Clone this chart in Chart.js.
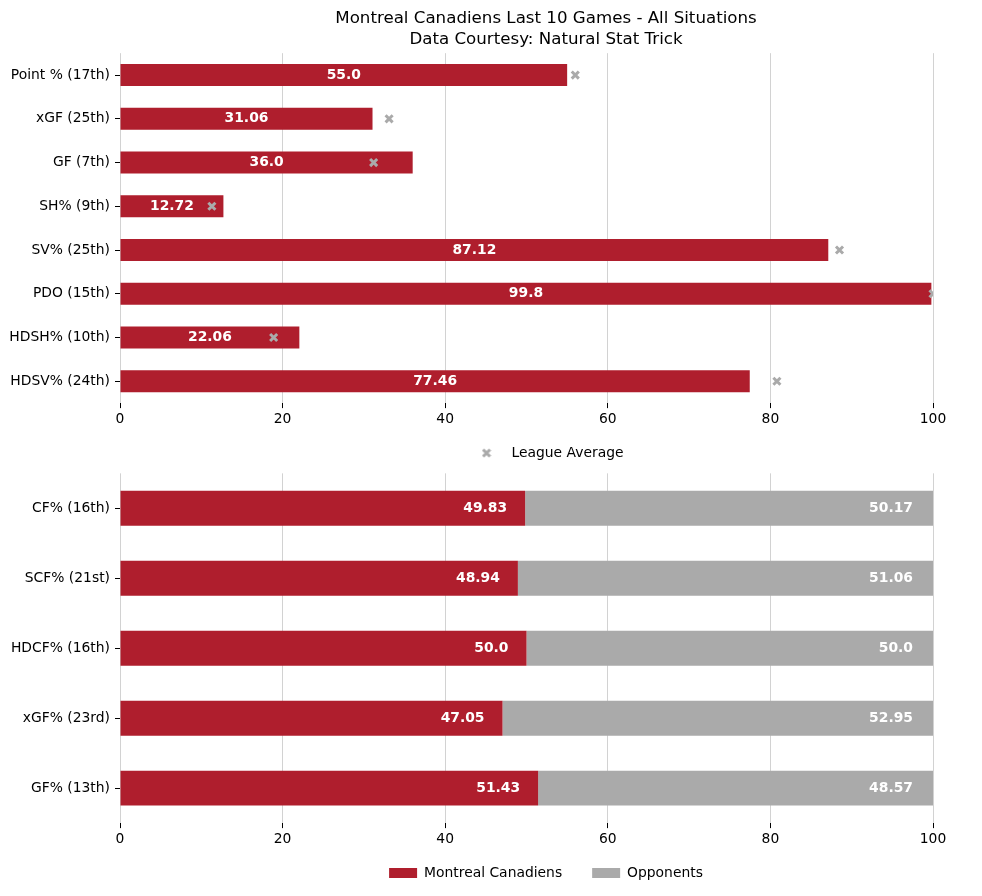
<!DOCTYPE html>
<html>
<head>
<meta charset="utf-8">
<script src="https://cdn.jsdelivr.net/npm/chart.js@4"></script>
<style>
  html, body { margin: 0; padding: 0; background: #ffffff; overflow: hidden; width: 982px; height: 896px; }
  #top { position: absolute; left: 0; top: 0; width: 982px; height: 470px; }
  #bottom { position: absolute; left: 0; top: 460px; width: 982px; height: 444px; }
</style>
</head>
<body>
<div id="top"><canvas id="c1"></canvas></div>
<div id="bottom"><canvas id="c2"></canvas></div>
<script>
// ---------- data ----------
const titleLines = ['Montreal Canadiens Last 10 Games - All Situations', 'Data Courtesy: Natural Stat Trick'];

const topCategories = ['Point % (17th)', 'xGF (25th)', 'GF (7th)', 'SH% (9th)', 'SV% (25th)', 'PDO (15th)', 'HDSH% (10th)', 'HDSV% (24th)'];
const teamValues = [55.0, 31.06, 36.0, 12.72, 87.12, 99.8, 22.06, 77.46];
const leagueAverage = [56.0, 33.1, 31.2, 11.3, 88.5, 100.0, 18.9, 80.8];

const bottomCategories = ['CF% (16th)', 'SCF% (21st)', 'HDCF% (16th)', 'xGF% (23rd)', 'GF% (13th)'];
const montrealShare = [49.83, 48.94, 50.0, 47.05, 51.43];
const opponentShare = [50.17, 51.06, 50.0, 52.95, 48.57];

const xTickStep = 20;
const xMin = 0;
const xMax = 100;

// ---------- styles ----------
const RED = '#AF1E2D';
const GRAY = '#AAAAAA';
const GRID = '#d2d2d2';
const FONT = "'DejaVu Sans', sans-serif";
const FS = 13.89;

Chart.defaults.font.family = FONT;
Chart.defaults.font.size = FS;
Chart.defaults.color = '#000000';

function fmt(v) { return Number.isInteger(v) ? v.toFixed(1) : String(v); }

// marker image for the legend (matplotlib-like bold X)
const xMarker = document.createElement('canvas');
xMarker.width = 10; xMarker.height = 10;
(function () {
  const c = xMarker.getContext('2d');
  c.strokeStyle = GRAY; c.lineWidth = 3; c.lineCap = 'butt';
  c.beginPath(); c.moveTo(1.5, 1.5); c.lineTo(8.5, 8.5); c.moveTo(8.5, 1.5); c.lineTo(1.5, 8.5); c.stroke();
})();

// shift title & legend (they are centred on the figure, not on the axes)
const shiftBoxes = {
  id: 'shiftBoxes',
  afterLayout(chart, args, opts) {
    const dx = opts.dx || 0;
    [chart.titleBlock, chart.legend].forEach(b => {
      if (b && b.options && b.options.display) { b.left += dx; b.right += dx; }
    });
    const dy = opts.legendDy || 0;
    if (chart.legend && dy) { chart.legend.top += dy; chart.legend.bottom += dy; }
  }
};

// value labels drawn on bars
const barLabels = {
  id: 'barLabels',
  afterDatasetsDraw(chart, args, opts) {
    const ctx = chart.ctx;
    ctx.save();
    ctx.font = 'bold ' + FS + 'px ' + FONT;
    ctx.fillStyle = '#ffffff';
    ctx.textBaseline = 'middle';
    (opts.sets || []).forEach(s => {
      const meta = chart.getDatasetMeta(s.index);
      const values = chart.data.datasets[s.index].data;
      meta.data.forEach((bar, i) => {
        const p = bar.getProps(['x', 'y', 'base'], true);
        const v = values[i];
        if (s.mode === 'center') {
          ctx.textAlign = 'center';
          ctx.fillText(fmt(v), (p.x + p.base) / 2, p.y);
        } else {
          ctx.textAlign = 'right';
          ctx.fillText(fmt(v), p.x - s.inset, p.y);
        }
      });
    });
    ctx.restore();
  }
};

function xScaleOpts() {
  return {
    type: 'linear', min: xMin, max: xMax,
    ticks: { stepSize: xTickStep, padding: 3, font: { size: FS, lineHeight: 16 / FS } },
    grid: { color: GRID, lineWidth: 1, tickColor: '#000000', tickLength: 5, tickWidth: 1 },
    border: { display: false }
  };
}
function yScaleOpts(stacked) {
  return {
    type: 'category', offset: true, stacked: stacked,
    ticks: { padding: 5, autoSkip: false, font: { size: FS } },
    grid: { offset: false, drawOnChartArea: false, drawTicks: true, tickLength: 5, tickColor: '#000000', tickWidth: 1 },
    border: { display: false },
    afterFit(scale) { scale.width = 120; }
  };
}

// ---------- top chart ----------
new Chart(document.getElementById('c1'), {
  type: 'bar',
  data: {
    labels: topCategories,
    datasets: [
      {
        label: 'Montreal Canadiens',
        data: teamValues,
        backgroundColor: RED, borderColor: RED, borderWidth: 0,
        barPercentage: 0.5, categoryPercentage: 1.0,
        order: 2
      },
      {
        type: 'scatter',
        label: 'League Average',
        data: leagueAverage.map((v, i) => ({ x: v, y: topCategories[i] })),
        pointStyle: 'crossRot', radius: 5, borderWidth: 3,
        borderColor: GRAY, backgroundColor: GRAY,
        order: 1
      }
    ]
  },
  options: {
    indexAxis: 'y',
    responsive: true, maintainAspectRatio: false, animation: false, events: [],
    layout: { padding: { left: 0, right: 49, top: 0, bottom: 0 } },
    scales: { x: xScaleOpts(), y: yScaleOpts(false) },
    plugins: {
      title: {
        display: true, text: titleLines, fullSize: false,
        font: { size: 16.67, weight: 'normal', lineHeight: 1.25 },
        color: '#000000', padding: { top: 8, bottom: 3.5 }
      },
      legend: {
        display: true, position: 'bottom', fullSize: false,
        labels: {
          usePointStyle: true, pointStyleWidth: 36, padding: 16,
          font: { size: FS }, color: '#000000',
          generateLabels(chart) {
            return Chart.defaults.plugins.legend.labels.generateLabels(chart)
              .filter(it => it.datasetIndex === 1)
              .map(it => Object.assign(it, { pointStyle: xMarker, lineWidth: 0 }));
          }
        }
      },
      tooltip: { enabled: false },
      shiftBoxes: { dx: 19.5 },
      barLabels: { sets: [{ index: 0, mode: 'center' }] }
    }
  },
  plugins: [shiftBoxes, barLabels]
});

// ---------- bottom chart ----------
new Chart(document.getElementById('c2'), {
  type: 'bar',
  data: {
    labels: bottomCategories,
    datasets: [
      {
        label: 'Montreal Canadiens', data: montrealShare,
        backgroundColor: RED, borderColor: RED, borderWidth: 0,
        barPercentage: 0.5, categoryPercentage: 1.0
      },
      {
        label: 'Opponents', data: opponentShare,
        backgroundColor: GRAY, borderColor: GRAY, borderWidth: 0,
        barPercentage: 0.5, categoryPercentage: 1.0
      }
    ]
  },
  options: {
    indexAxis: 'y',
    responsive: true, maintainAspectRatio: false, animation: false, events: [],
    layout: { padding: { left: 0, right: 49, top: 0, bottom: 0 } },
    scales: { x: Object.assign(xScaleOpts(), { stacked: true }), y: yScaleOpts(true) },
    plugins: {
      title: { display: false },
      legend: {
        display: true, position: 'bottom', fullSize: false,
        labels: { boxWidth: 28, boxHeight: 10, padding: 30, font: { size: FS }, color: '#000000' }
      },
      tooltip: { enabled: false },
      shiftBoxes: { dx: 19.5, legendDy: -14 },
      barLabels: { sets: [{ index: 0, mode: 'end', inset: 18 }, { index: 1, mode: 'end', inset: 20 }] }
    }
  },
  plugins: [shiftBoxes, barLabels]
});
</script>
</body>
</html>
